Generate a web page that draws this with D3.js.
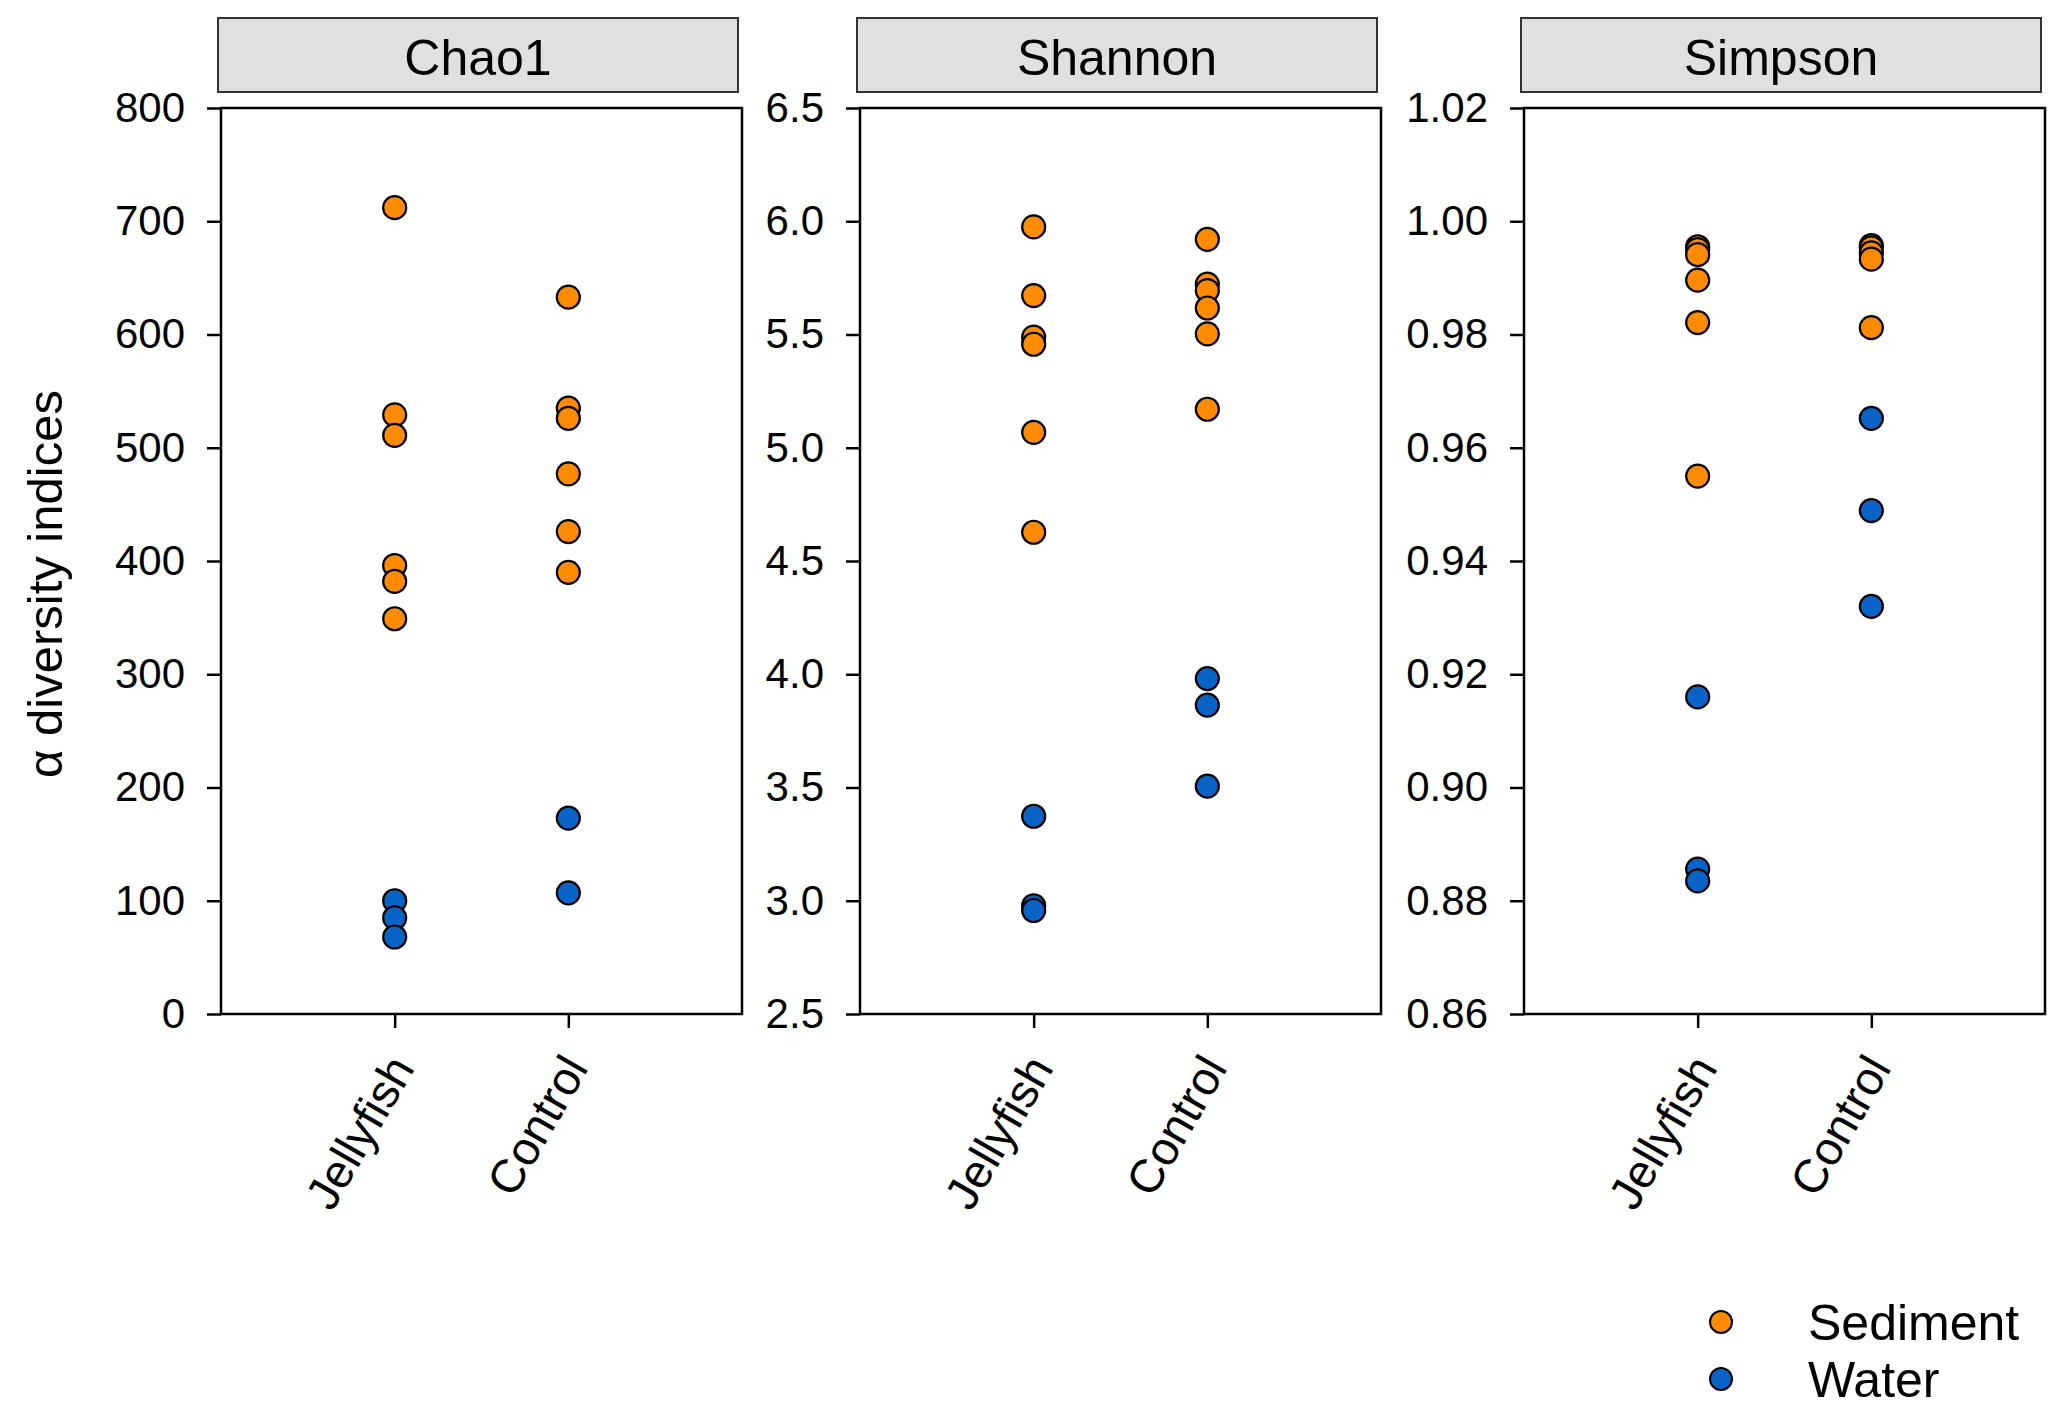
<!doctype html>
<html>
  <head>
    <meta charset="utf-8">
    <title>Alpha diversity</title>
    <script src="https://cdnjs.cloudflare.com/ajax/libs/d3/7.8.5/d3.min.js"></script>
    <style>
      body { margin: 0; background: #fff; }
      svg { display: block; font-family: "Liberation Sans", Arial, sans-serif; }
    </style>
  </head>
  <body>
    <div id="chart"></div>
    <script>
    // categories
    const groups = ["Jellyfish", "Control"];
    const habitats = ["Sediment", "Water"];
    const colors = ["#ff8c00", "#0a64c8"];

    // values: [group, habitat, values]
    const chao1 = [
      ["Jellyfish", "Sediment", [712, 529, 511, 396, 382, 349]],
      ["Control", "Sediment", [633, 535, 526, 477, 426, 390]],
      ["Jellyfish", "Water", [100, 85, 68]],
      ["Control", "Water", [173, 107]]
    ];
    const shannon = [
      ["Jellyfish", "Sediment", [5.975, 5.672, 5.488, 5.457, 5.068, 4.627]],
      ["Control", "Sediment", [5.92, 5.722, 5.694, 5.617, 5.503, 5.17]],
      ["Jellyfish", "Water", [3.373, 2.978, 2.957]],
      ["Control", "Water", [3.981, 3.864, 3.506]]
    ];
    const simpson = [
      ["Jellyfish", "Sediment", [0.9955, 0.995, 0.9941, 0.9896, 0.9821, 0.955]],
      ["Control", "Sediment", [0.9957, 0.9953, 0.9944, 0.9933, 0.9812]],
      ["Jellyfish", "Water", [0.916, 0.8856, 0.8835]],
      ["Control", "Water", [0.9652, 0.9489, 0.932]]
    ];

    // tick labels
    const chao1Ticks = [0, 100, 200, 300, 400, 500, 600, 700, 800];
    const shannonTicks = [2.5, 3.0, 3.5, 4.0, 4.5, 5.0, 5.5, 6.0, 6.5];
    const simpsonTicks = [0.86, 0.88, 0.90, 0.92, 0.94, 0.96, 0.98, 1.00, 1.02];

    const panels = [
      { title: "Chao1", rows: chao1, ticks: chao1Ticks, fmt: d3.format("d"), left: 221 },
      { title: "Shannon", rows: shannon, ticks: shannonTicks, fmt: d3.format(".1f"), left: 860 },
      { title: "Simpson", rows: simpson, ticks: simpsonTicks, fmt: d3.format(".2f"), left: 1524 }
    ];

    const W = 2067, H = 1416;
    const boxW = 521, boxTop = 108, boxBottom = 1014;
    const stripTop = 18, stripBottom = 92;

    const svg = d3.select("#chart").append("svg")
      .attr("width", W)
      .attr("height", H);

    const color = d3.scaleOrdinal().domain(habitats).range(colors);

    panels.forEach(p => {
      const g = svg.append("g");
      const x = d3.scalePoint().domain(groups).range([p.left, p.left + boxW]).padding(1);
      const y = d3.scaleLinear().domain(d3.extent(p.ticks)).range([boxBottom, boxTop]);

      // strip
      g.append("rect")
        .attr("x", p.left - 3).attr("y", stripTop)
        .attr("width", boxW - 1).attr("height", stripBottom - stripTop)
        .attr("fill", "#e0e0e0").attr("stroke", "#333").attr("stroke-width", 2);
      g.append("text")
        .attr("x", p.left - 3 + (boxW - 1) / 2).attr("y", 75)
        .attr("text-anchor", "middle")
        .style("font-size", "50px")
        .text(p.title);

      // axes
      const yAxis = g.append("g")
        .attr("transform", `translate(${p.left},0)`)
        .call(d3.axisLeft(y).tickValues(p.ticks).tickFormat(p.fmt).tickSize(14).tickPadding(22));
      const xAxis = g.append("g")
        .attr("transform", `translate(0,${boxBottom})`)
        .call(d3.axisBottom(x).tickSize(14).tickFormat(""));
      [yAxis, xAxis].forEach(a => {
        a.select(".domain").remove();
        a.selectAll("line").attr("stroke", "#000").attr("stroke-width", 2.5);
      });
      yAxis.selectAll("text").style("font-size", "42px").attr("fill", "#000");

      // rotated category labels
      g.selectAll(".xlab")
        .data(groups)
        .join("text")
        .attr("class", "xlab")
        .attr("text-anchor", "end")
        .attr("transform", d => `translate(${x(d) + 21},${boxBottom + 54}) rotate(-60)`)
        .style("font-size", "47px")
        .text(d => d);

      // frame
      g.append("rect")
        .attr("x", p.left).attr("y", boxTop)
        .attr("width", boxW).attr("height", boxBottom - boxTop)
        .attr("fill", "none").attr("stroke", "#000").attr("stroke-width", 2.5);

      // points
      const pts = p.rows.flatMap(r => r[2].map(v => ({ group: r[0], habitat: r[1], value: v })));
      g.selectAll("circle")
        .data(pts)
        .join("circle")
        .attr("cx", d => x(d.group))
        .attr("cy", d => y(d.value))
        .attr("r", 11.5)
        .attr("fill", d => color(d.habitat))
        .attr("stroke", "#000")
        .attr("stroke-width", 2.2);
    });

    // y axis title
    svg.append("text")
      .attr("transform", "translate(62,584) rotate(-90)")
      .attr("text-anchor", "middle")
      .style("font-size", "49px")
      .text("α diversity indices");

    // legend
    const legend = svg.selectAll(".legend")
      .data(habitats)
      .join("g")
      .attr("class", "legend")
      .attr("transform", (d, i) => `translate(0,${i * 57})`);
    legend.append("circle")
      .attr("cx", 1721).attr("cy", 1322).attr("r", 11)
      .attr("fill", d => color(d)).attr("stroke", "#000").attr("stroke-width", 2);
    legend.append("text")
      .attr("x", 1808).attr("y", 1340)
      .style("font-size", "50px")
      .text(d => d);
    </script>
  </body>
</html>
